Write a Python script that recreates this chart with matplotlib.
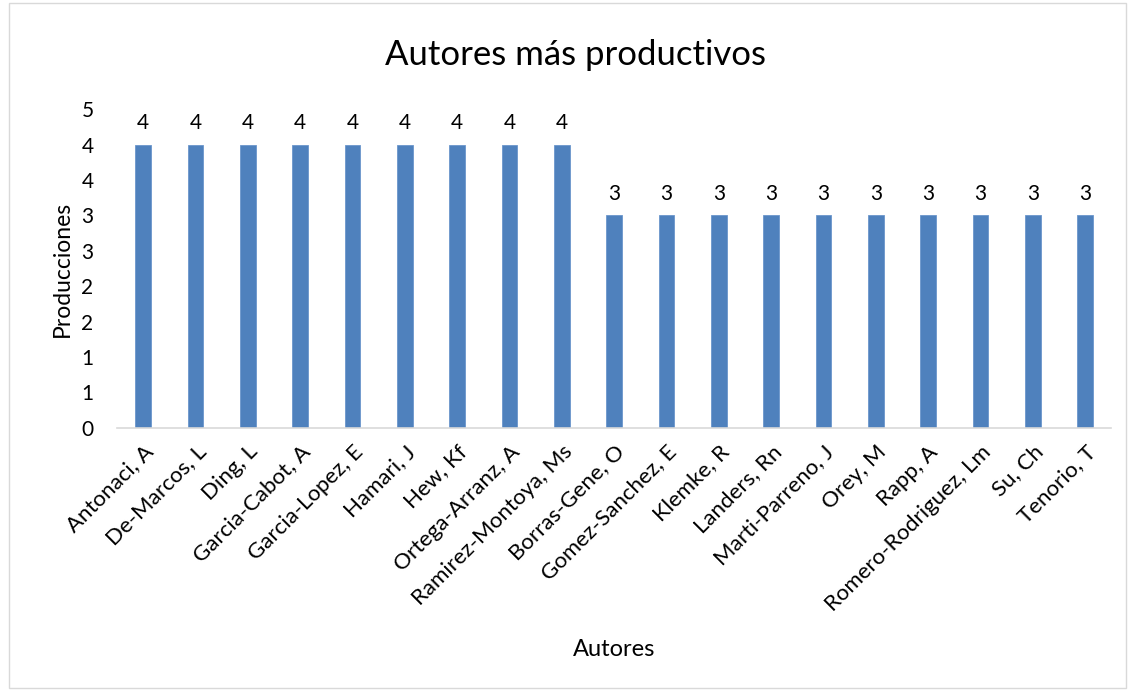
import numpy as np
import matplotlib.pyplot as plt
from matplotlib.ticker import MultipleLocator, FuncFormatter
from matplotlib.patches import Rectangle

plt.rcParams['font.family'] = ['Lato', 'DejaVu Sans']

autores = [
    "Antonaci, A", "De-Marcos, L", "Ding, L", "Garcia-Cabot, A",
    "Garcia-Lopez, E", "Hamari, J", "Hew, Kf", "Ortega-Arranz, A",
    "Ramirez-Montoya, Ms", "Borras-Gene, O", "Gomez-Sanchez, E",
    "Klemke, R", "Landers, Rn", "Marti-Parreno, J", "Orey, M", "Rapp, A",
    "Romero-Rodriguez, Lm", "Su, Ch", "Tenorio, T",
]
producciones = [4, 4, 4, 4, 4, 4, 4, 4, 4, 3, 3, 3, 3, 3, 3, 3, 3, 3, 3]

fig = plt.figure(figsize=(11.31, 6.91), dpi=100)
ax = fig.add_axes([0.1035, 0.381, 0.879, 0.461])

x = np.arange(len(autores))
bars = ax.bar(x, producciones, width=0.3, color="#4F81BD",
              edgecolor="#6B96CC", linewidth=0.6)

for xi, v in zip(x, producciones):
    ax.text(xi, v + 0.16, str(v), ha="center", va="bottom", fontsize=15)

ax.set_xlim(-0.5, len(autores) - 0.5)
ax.set_ylim(0, 4.5)
ax.yaxis.set_major_locator(MultipleLocator(0.5))
ax.yaxis.set_major_formatter(FuncFormatter(lambda v, p: str(int(np.floor(v + 0.5)))))

ax.set_xticks(x)
ax.set_xticklabels(autores, rotation=45, ha="right", rotation_mode="anchor",
                   fontsize=16)
ax.tick_params(axis="y", labelsize=15, length=0, pad=17)
ax.tick_params(axis="x", length=0, pad=10)

for s in ["top", "right", "left"]:
    ax.spines[s].set_visible(False)
ax.spines["bottom"].set_color("#D9D9D9")
ax.spines["bottom"].set_linewidth(1.2)

# title centred on the whole chart, as in the Excel original
fig.text(0.509, 0.921, "Autores más productivos", ha="center", va="center", fontsize=25)
ax.set_ylabel("Producciones", fontsize=16.5, labelpad=6)
fig.text(0.543, 0.06, "Autores", ha="center", va="center", fontsize=17)

fig.patches.append(Rectangle((0.008, 0.004), 0.988, 0.992, transform=fig.transFigure,
                             fill=False, edgecolor="#D9D9D9", linewidth=1))

fig.savefig("out.png", dpi=100)
